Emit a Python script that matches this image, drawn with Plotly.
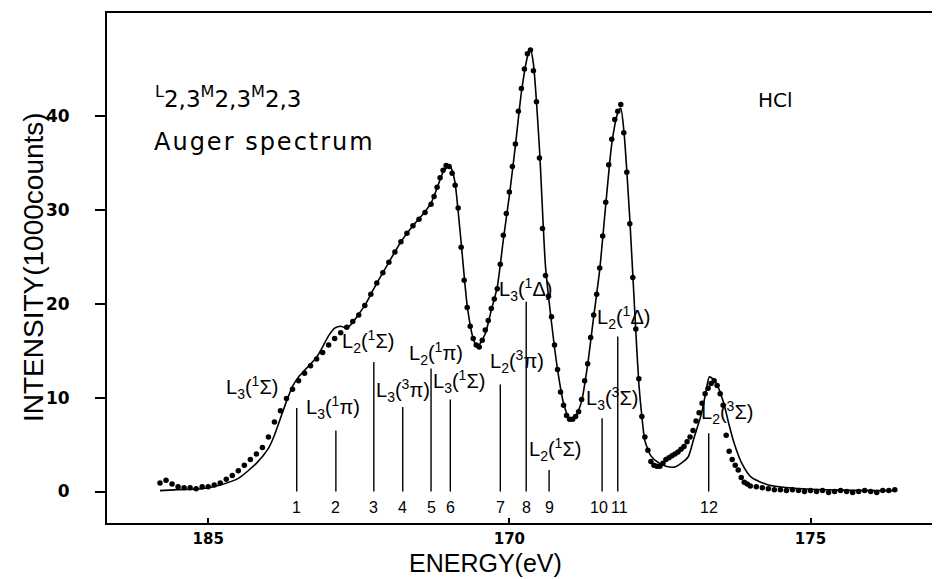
import plotly.graph_objects as go

# ---------------- data ----------------
# measured Auger spectrum (dots): energy (eV) and intensity (1000 counts)
meas_energy = [
    164.2, 164.3, 164.4, 164.5, 164.6, 164.7, 164.8, 164.9, 165.0, 165.1,
    165.2, 165.3, 165.4, 165.5, 165.6, 165.7, 165.8, 165.9, 166.0, 166.1,
    166.2, 166.3, 166.4, 166.5, 166.6, 166.7, 166.8, 166.9, 167.0, 167.1,
    167.2, 167.3, 167.4, 167.5, 167.6, 167.7, 167.8, 167.9, 168.0, 168.1,
    168.2, 168.3, 168.4, 168.5, 168.6, 168.7,
    168.75, 168.80, 168.85, 168.90, 168.95, 169.00, 169.05, 169.10, 169.15, 169.20,
    169.25, 169.30, 169.35, 169.40, 169.45, 169.50, 169.55, 169.60, 169.65, 169.70,
    169.75, 169.80, 169.85, 169.90, 169.95, 170.00, 170.05, 170.10, 170.15, 170.20,
    170.25, 170.30, 170.35, 170.40, 170.45, 170.50, 170.55, 170.60, 170.65, 170.70,
    170.75, 170.80, 170.85, 170.90, 170.95, 171.00, 171.05, 171.10, 171.15, 171.20,
    171.25, 171.30, 171.35, 171.40, 171.45, 171.50, 171.55, 171.60, 171.65, 171.70,
    171.75, 171.80, 171.85, 171.90, 171.95, 172.00, 172.05, 172.10, 172.15, 172.20,
    172.25, 172.30, 172.35, 172.40, 172.45, 172.50, 172.55, 172.60, 172.65, 172.70,
    172.75, 172.80, 172.85, 172.90, 172.95, 173.00, 173.05, 173.10, 173.15, 173.20,
    173.25, 173.30, 173.35, 173.40, 173.45, 173.50, 173.55, 173.60, 173.65, 173.70,
    173.75, 173.80, 173.85, 173.90, 173.95, 174.00,
    174.1, 174.2, 174.3, 174.4, 174.5, 174.6, 174.7, 174.8, 174.9, 175.0,
    175.1, 175.2, 175.3, 175.4, 175.5, 175.6, 175.7, 175.8, 175.9, 176.0,
    176.1, 176.2, 176.3, 176.4,
]
meas_counts = [
    0.9, 1.2, 0.8, 0.5, 0.4, 0.4, 0.3, 0.5, 0.5, 0.7,
    0.9, 1.3, 1.7, 2.2, 2.8, 3.4, 4.0, 4.7, 5.8, 7.4,
    8.6, 9.9, 10.9, 11.8, 12.6, 13.4, 14.1, 14.8, 15.6, 16.3,
    16.9, 17.5, 18.1, 18.8, 19.8, 21.0, 22.2, 23.3, 24.4, 25.5,
    26.6, 27.5, 28.3, 29.0, 29.7, 30.6,
    31.4, 32.4, 33.4, 34.2, 34.7, 34.6, 33.9, 32.6, 30.2, 26.0,
    22.5, 19.6, 17.6, 16.3, 15.6, 15.4, 16.1, 17.2, 18.2, 19.5,
    20.5, 21.6, 24.2, 27.3, 29.6, 31.9, 34.6, 37.0, 40.5, 42.9,
    45.0, 46.6, 47.0, 44.8, 41.5, 35.5, 28.0, 23.0, 20.8, 18.6,
    15.6, 13.0, 10.6, 9.2, 8.1, 7.7, 7.7, 8.0, 8.5, 9.8,
    11.8, 13.6, 16.4, 18.8, 21.0, 23.8, 27.2, 30.8, 34.8, 37.5,
    39.6, 40.5, 41.2, 38.2, 34.0, 28.5, 22.8, 17.3, 12.0, 8.0,
    5.8, 4.4, 3.2, 2.8, 2.7, 2.7, 3.0, 3.4, 3.6, 3.8,
    4.0, 4.2, 4.5, 4.8, 5.3, 5.8, 6.5, 7.5, 8.4, 9.4,
    10.4, 11.0, 11.5, 11.8, 11.3, 10.4, 9.2, 6.0, 4.3, 3.4,
    2.8, 2.3, 1.5, 1.0, 0.8, 0.6,
    0.5, 0.4, 0.3, 0.2, 0.2, 0.1, 0.2, 0.1, 0.0, 0.1,
    0.0, 0.1, -0.1, 0.0, 0.1, 0.0, -0.1, 0.0, 0.1, 0.0,
    -0.1, 0.1, 0.1, 0.2,
]

# fitted spectrum (solid line)
fit_energy = [
    164.2, 164.5, 164.9, 165.2, 165.5, 165.8, 166.0, 166.1, 166.2, 166.3,
    166.4, 166.5, 166.6, 166.8, 166.9, 167.0, 167.1, 167.2, 167.3, 167.4,
    167.5, 167.6, 167.7, 167.8, 167.9, 168.0, 168.2, 168.4, 168.6, 168.7,
    168.8, 168.9, 169.0, 169.05, 169.1, 169.2, 169.3, 169.4, 169.47, 169.6,
    169.7, 169.8, 169.9, 170.0, 170.1, 170.2, 170.3, 170.35, 170.4, 170.5,
    170.6, 170.7, 170.8, 170.9, 171.0, 171.05, 171.1, 171.2, 171.3, 171.4,
    171.5, 171.6, 171.7, 171.8, 171.85, 171.9, 172.0, 172.1, 172.15, 172.2,
    172.25, 172.35, 172.47, 172.6, 172.74, 172.85, 172.97, 173.07, 173.19, 173.26,
    173.32, 173.38, 173.44, 173.56, 173.64, 173.73, 173.86, 174.02, 174.3, 174.63,
    175.0, 175.5, 176.0, 176.4,
]
fit_counts = [
    0.1, 0.2, 0.3, 0.7, 1.4, 3.0, 4.6, 6.0, 7.8, 9.6,
    11.2, 12.2, 12.9, 14.3, 15.4, 16.6, 17.4, 17.6, 17.4, 18.0,
    18.9, 19.8, 21.0, 22.2, 23.3, 24.4, 26.6, 28.3, 29.8, 30.7,
    32.3, 34.0, 34.7, 34.2, 32.8, 26.5, 19.8, 16.3, 15.4, 16.8,
    19.3, 21.8, 26.8, 31.5, 36.8, 42.5, 46.3, 47.1, 45.5, 36.5,
    24.0, 18.0, 13.0, 9.4, 7.7, 7.6, 7.9, 9.6, 13.5, 18.6,
    23.6, 30.5, 37.0, 40.3, 40.8, 38.5, 29.0, 17.0, 11.5, 8.0,
    5.4, 3.8, 3.1, 2.7, 2.6, 3.0, 3.7, 5.8, 8.3, 10.5,
    12.2, 12.0, 11.5, 9.4, 7.3, 5.2, 3.0, 1.5, 0.7, 0.4,
    0.25, 0.15, 0.1, 0.1,
]

# component lines
stick_energy = [166.47, 167.12, 167.75, 168.23, 168.70, 169.02,
                169.85, 170.28, 170.66, 171.54, 171.80, 173.31]
stick_height = [8.9, 6.5, 13.8, 9.0, 13.1, 9.8, 11.4, 20.2, 2.3, 7.8, 16.5, 6.2]
stick_numbers = ["1", "2", "3", "4", "5", "6", "7", "8", "9", "10", "11", "12"]

# assignments of the components
stick_labels = [
    "L<sub>3</sub>(<sup>1</sup>Σ)", "L<sub>3</sub>(<sup>1</sup>π)",
    "L<sub>2</sub>(<sup>1</sup>Σ)", "L<sub>3</sub>(<sup>3</sup>π)",
    "L<sub>2</sub>(<sup>1</sup>π)", "L<sub>3</sub>(<sup>1</sup>Σ)",
    "L<sub>2</sub>(<sup>3</sup>π)", "L<sub>3</sub>(<sup>1</sup>Δ)",
    "L<sub>2</sub>(<sup>1</sup>Σ)", "L<sub>2</sub>(<sup>1</sup>Δ)",
    "L<sub>3</sub>(<sup>3</sup>Σ)", "L<sub>2</sub>(<sup>3</sup>Σ)",
]

x_tickvals = [165, 170, 175]
x_ticktext = ["185", "170", "175"]
y_tickvals = [0, 10, 20, 30, 40]

# ---------------- layout positions (not data) ----------------
label_pos = [
    (165.73, 11.1), (167.08, 8.9), (167.65, 16.0), (168.23, 10.8),
    (168.79, 14.7), (169.16, 11.7), (170.12, 13.8), (170.26, 21.5),
    (170.76, 4.5), (171.89, 18.5), (171.71, 9.9), (173.62, 8.4),
]
number_level = -1.7
number_xshift = [0, 0, 0, 0, 0, 0, 0, 0, 0, -3, 2, 0]

# ---------------- figure ----------------
fig = go.Figure()

# stick lines built from the component arrays
sx, sy = [], []
for e, h in zip(stick_energy, stick_height):
    sx += [e, e, None]
    sy += [0, h, None]
fig.add_trace(go.Scatter(x=sx, y=sy, mode="lines",
                         line=dict(color="black", width=1.4),
                         hoverinfo="skip", showlegend=False))

fig.add_trace(go.Scatter(x=fit_energy, y=fit_counts, mode="lines",
                         line=dict(color="black", width=1.6, shape="spline", smoothing=0.6),
                         showlegend=False, name="fit"))

fig.add_trace(go.Scatter(x=meas_energy, y=meas_counts, mode="markers",
                         marker=dict(color="black", size=5.5),
                         showlegend=False, name="measured"))

annotations = []
# component numbers under the lines
for num, e, dx in zip(stick_numbers, stick_energy, number_xshift):
    annotations.append(dict(x=e, y=number_level, xref="x", yref="y", text=num,
                            showarrow=False, xanchor="center", yanchor="middle",
                            xshift=dx,
                            font=dict(family="Liberation Sans", size=16, color="black")))

for txt, (ex, ey) in zip(stick_labels, label_pos):
    annotations.append(dict(x=ex, y=ey, xref="x", yref="y", text=txt,
                            showarrow=False, xanchor="center", yanchor="middle",
                            font=dict(family="Liberation Sans", size=20, color="black")))

annotations += [
    dict(x=0.055, y=0.835, xref="paper", yref="paper", showarrow=False,
         xanchor="left", yanchor="middle",
         text="<sup>L</sup>2,3<sup>M</sup>2,3<sup>M</sup>2,3",
         font=dict(family="DejaVu Sans", size=23, color="black")),
    dict(x=0.054, y=0.747, xref="paper", yref="paper", showarrow=False,
         xanchor="left", yanchor="middle",
         text="<span style='letter-spacing:2px'>Auger spectrum</span>",
         font=dict(family="DejaVu Sans", size=24, color="black")),
    dict(x=0.802, y=0.829, xref="paper", yref="paper", showarrow=False,
         xanchor="center", yanchor="middle", text="HCl",
         font=dict(family="DejaVu Sans", size=20, color="black")),
    # axis titles
    dict(x=0.4538, y=-0.1098, xref="paper", yref="paper", showarrow=False,
         xanchor="center", yanchor="bottom", text="ENERGY(eV)",
         font=dict(family="Liberation Sans", size=25, color="black")),
    dict(x=-0.0876, y=0.502, xref="paper", yref="paper", showarrow=False,
         xanchor="center", yanchor="middle", text="INTENSITY(1000counts)",
         textangle=-90,
         font=dict(family="Liberation Sans", size=28, color="black")),
]

# the page body adds an 8 px offset, so the figure is sized/margined to compensate
fig.update_layout(
    width=932, height=571,
    margin=dict(l=99, r=0, t=5, b=56, autoexpand=False),
    paper_bgcolor="white", plot_bgcolor="white",
    annotations=annotations,
    showlegend=False,
)

fig.update_xaxes(
    range=[163.32, 177.15], automargin=False,
    tickvals=x_tickvals, ticktext=x_ticktext,
    ticks="inside", ticklen=5, tickwidth=1.5, tickcolor="black",
    showline=True, linecolor="black", linewidth=2, mirror=True,
    showgrid=False, zeroline=False,
    tickfont=dict(family="DejaVu Sans", size=15, color="black", weight="bold"),
    ticklabelstandoff=1,
)
fig.update_yaxes(
    range=[-3.35, 50.95], automargin=False,
    tickvals=y_tickvals,
    ticks="outside", ticklen=10, tickwidth=1.5, tickcolor="black",
    showline=True, linecolor="black", linewidth=2, mirror=False,
    showgrid=False, zeroline=False,
    tickfont=dict(family="DejaVu Sans", size=17, color="black", weight="bold"),
    ticklabelstandoff=22,
)

fig.write_html("out.html")
